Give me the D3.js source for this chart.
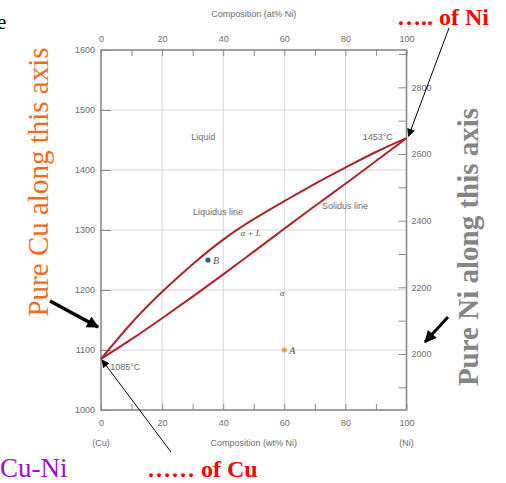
<!DOCTYPE html>
<html>
<head>
<meta charset="utf-8">
<script src="https://cdn.jsdelivr.net/npm/d3@7"></script>
<style>
  html, body { margin: 0; padding: 0; background: #fff; }
  svg { display: block; }
</style>
</head>
<body>
<div id="chart"></div>
<script>
// Cu-Ni phase diagram

const width = 506;
const height = 483;

// data
const wtPct = [0, 10, 20, 30, 40, 50, 60, 70, 80, 90, 100];
const liquidus = [1085, 1145, 1197, 1243, 1284, 1318, 1348, 1377, 1404, 1430, 1453];
const solidus = [1085, 1118, 1153, 1189, 1226, 1264, 1302, 1340, 1377, 1415, 1453];

const wtTicks = [0, 20, 40, 60, 80, 100];
const atTicks = [0, 20, 40, 60, 80, 100];
const tempTicksC = [1000, 1100, 1200, 1300, 1400, 1500, 1600];
const tempTicksF = [2000, 2200, 2400, 2600, 2800];
const minorTicksF = [1900, 2000, 2100, 2200, 2300, 2400, 2500, 2600, 2700, 2800, 2900];

const pointNames = ["A", "B"];
const pointWt = [60, 35];
const pointT = [1100, 1250];
const pointColors = ["#f0a042", "#1d5e9e"];

const meltCu = 1085;
const meltNi = 1453;

const gray = "#6a6a6a";
const curveColor = "#a8262e";

const svg = d3.select("#chart").append("svg")
  .attr("width", width)
  .attr("height", height)
  .attr("viewBox", [0, 0, width, height]);

const x = d3.scaleLinear().domain([0, 100]).range([101, 406.5]);
const y = d3.scaleLinear().domain([1000, 1600]).range([410, 50]);
const yF = d3.scaleLinear().domain([1000 * 9 / 5 + 32, 1600 * 9 / 5 + 32]).range([410, 50]);

const defs = svg.append("defs");
function marker(id, w, h) {
  defs.append("marker")
    .attr("id", id)
    .attr("viewBox", "0 0 10 10")
    .attr("refX", 9).attr("refY", 5)
    .attr("markerWidth", w).attr("markerHeight", h)
    .attr("markerUnits", "userSpaceOnUse")
    .attr("orient", "auto")
    .append("path").attr("d", "M0,0 L10,5 L0,10 z").attr("fill", "#000");
}
marker("head-thin", 9, 8);
marker("head-thick", 13, 12);

// gridlines
const grid = svg.append("g").attr("stroke", "#d4d4d4").attr("stroke-width", 1);
grid.selectAll("line.v").data(wtTicks.slice(1, -1)).join("line")
  .attr("x1", d => x(d)).attr("x2", d => x(d))
  .attr("y1", y(1600)).attr("y2", y(1000));
grid.selectAll("line.h").data(tempTicksC.slice(1, -1)).join("line")
  .attr("x1", x(0)).attr("x2", x(100))
  .attr("y1", d => y(d)).attr("y2", d => y(d));

// axes drawn with d3 axis generators, ticks pointing inward
const small = "9px 'Liberation Sans', Arial, sans-serif";
function styleAxis(g) {
  g.select(".domain").remove();
  g.selectAll(".tick line").attr("stroke", "#8a8a8a").attr("stroke-width", 1);
  g.selectAll(".tick text").attr("fill", gray).style("font", small);
}

svg.append("g")
  .attr("transform", `translate(${x(0)},0)`)
  .call(d3.axisLeft(y).tickValues(tempTicksC).tickSizeInner(-10).tickSizeOuter(0).tickFormat(d3.format("d")))
  .call(styleAxis)
  .call(g => g.selectAll(".tick text").attr("x", -6));

svg.append("g")
  .attr("transform", `translate(0,${y(1000)})`)
  .call(d3.axisBottom(x).ticks(10).tickSizeInner(-6).tickSizeOuter(0).tickFormat(""))
  .call(styleAxis);
svg.append("g")
  .attr("transform", `translate(0,${y(1000)})`)
  .call(d3.axisBottom(x).tickValues(wtTicks).tickSize(0).tickPadding(10))
  .call(styleAxis);

svg.append("g")
  .attr("transform", `translate(0,${y(1600)})`)
  .call(d3.axisTop(x).ticks(10).tickSizeInner(-6).tickSizeOuter(0).tickFormat(""))
  .call(styleAxis);
svg.append("g")
  .attr("transform", `translate(0,${y(1600)})`)
  .call(d3.axisTop(x).tickValues(atTicks).tickSize(0).tickPadding(8))
  .call(styleAxis);

svg.append("g")
  .attr("transform", `translate(${x(100)},0)`)
  .call(d3.axisRight(yF).tickValues(minorTicksF).tickSizeInner(-8).tickSizeOuter(0).tickFormat(""))
  .call(styleAxis);
svg.append("g")
  .attr("transform", `translate(${x(100)},0)`)
  .call(d3.axisRight(yF).tickValues(tempTicksF).tickSize(0).tickPadding(5).tickFormat(d3.format("d")))
  .call(styleAxis);

// frame
svg.append("rect")
  .attr("x", x(0)).attr("y", y(1600))
  .attr("width", x(100) - x(0)).attr("height", y(1000) - y(1600))
  .attr("fill", "none").attr("stroke", "#8a8a8a").attr("stroke-width", 1.6);

// axis titles
svg.append("text").attr("x", (x(0) + x(100)) / 2).attr("y", 17).attr("text-anchor", "middle")
  .attr("fill", gray).style("font", small).text("Composition (at% Ni)");
svg.append("text").attr("x", (x(0) + x(100)) / 2).attr("y", 446).attr("text-anchor", "middle")
  .attr("fill", gray).style("font", small).text("Composition (wt% Ni)");
svg.append("text").attr("x", x(0)).attr("y", 446).attr("text-anchor", "middle")
  .attr("fill", gray).style("font", small).text("(Cu)");
svg.append("text").attr("x", x(100)).attr("y", 446).attr("text-anchor", "middle")
  .attr("fill", gray).style("font", small).text("(Ni)");

// liquidus and solidus
const line = d3.line()
  .x(d => x(d[0]))
  .y(d => y(d[1]))
  .curve(d3.curveNatural);

svg.append("path")
  .attr("d", line(d3.zip(wtPct, liquidus)))
  .attr("fill", "none").attr("stroke", curveColor).attr("stroke-width", 2);
svg.append("path")
  .attr("d", line(d3.zip(wtPct, solidus)))
  .attr("fill", "none").attr("stroke", curveColor).attr("stroke-width", 2);

// region / line labels
const labelFont = "9px 'Liberation Sans', Arial, sans-serif";
svg.append("text").attr("x", x(33.5)).attr("y", y(1450)).attr("text-anchor", "middle")
  .attr("fill", gray).style("font", labelFont).text("Liquid");
svg.append("text").attr("x", x(95.5)).attr("y", y(1450)).attr("text-anchor", "end")
  .attr("fill", gray).style("font", labelFont).text(meltNi + "°C");
svg.append("text").attr("x", x(38.3)).attr("y", y(1325)).attr("text-anchor", "middle")
  .attr("fill", gray).style("font", labelFont).text("Liquidus line");
svg.append("text").attr("x", x(72.3)).attr("y", y(1335)).attr("text-anchor", "start")
  .attr("fill", gray).style("font", labelFont).text("Solidus line");
svg.append("text").attr("x", x(3)).attr("y", y(1067)).attr("text-anchor", "start")
  .attr("fill", gray).style("font", labelFont).text(meltCu + "°C");

const italic = "italic 9px 'Liberation Serif', 'Times New Roman', serif";
svg.append("text").attr("x", x(49)).attr("y", y(1290)).attr("text-anchor", "middle")
  .attr("fill", "#555").style("font", italic).text("α + L");
svg.append("text").attr("x", x(59.3)).attr("y", y(1190)).attr("text-anchor", "middle")
  .attr("fill", "#555").style("font", italic).text("α");

// points A and B
const points = pointNames.map((n, i) => ({ name: n, wt: pointWt[i], t: pointT[i], color: pointColors[i] }));
svg.selectAll("circle.pt").data(points).join("circle")
  .attr("class", "pt")
  .attr("cx", d => x(d.wt)).attr("cy", d => y(d.t))
  .attr("r", 2.6).attr("fill", d => d.color);
svg.selectAll("text.pt").data(points).join("text")
  .attr("class", "pt")
  .attr("x", d => x(d.wt) + 5).attr("y", d => y(d.t) + 4)
  .attr("fill", "#555").style("font", "italic 10px 'Liberation Serif', serif")
  .text(d => d.name);

// annotations
const serif = "'Liberation Serif', 'Times New Roman', serif";

svg.append("text").attr("x", -3).attr("y", 29)
  .style("font", `21px ${serif}`).attr("fill", "#000").text("e");

svg.append("text")
  .attr("transform", `translate(48,${182}) rotate(-90)`)
  .attr("text-anchor", "middle")
  .attr("fill", "#f26a1c")
  .style("font", `29px ${serif}`)
  .text("Pure Cu along this axis");

svg.append("text")
  .attr("transform", `translate(478,${247}) rotate(-90)`)
  .attr("text-anchor", "middle")
  .attr("fill", "#858585")
  .style("font", `bold 29px ${serif}`)
  .text("Pure Ni along this axis");

svg.append("text").attr("x", 0).attr("y", 477)
  .attr("fill", "#9b10c8").style("font", `27px ${serif}`).text("Cu-Ni");
svg.append("text").attr("x", 147).attr("y", 477)
  .attr("fill", "#f00").style("font", `bold 24px ${serif}`).text("…… of Cu");
svg.append("text").attr("x", 397).attr("y", 25)
  .attr("fill", "#f00").style("font", `bold 24px ${serif}`).text("….. of Ni");

// thin arrows to the melting points
svg.append("line")
  .attr("x1", 171).attr("y1", 452)
  .attr("x2", x(0) + 1).attr("y2", y(meltCu) + 1)
  .attr("stroke", "#000").attr("stroke-width", 1)
  .attr("marker-end", "url(#head-thin)");
svg.append("line")
  .attr("x1", 449).attr("y1", 28)
  .attr("x2", x(100) + 2).attr("y2", y(meltNi) - 2)
  .attr("stroke", "#000").attr("stroke-width", 1)
  .attr("marker-end", "url(#head-thin)");

// thick arrows toward the axes
svg.append("line")
  .attr("x1", 50).attr("y1", 301)
  .attr("x2", x(0) - 3).attr("y2", 327)
  .attr("stroke", "#000").attr("stroke-width", 3.5)
  .attr("marker-end", "url(#head-thick)");
svg.append("line")
  .attr("x1", 448).attr("y1", 317)
  .attr("x2", 425).attr("y2", 342)
  .attr("stroke", "#000").attr("stroke-width", 3)
  .attr("marker-end", "url(#head-thick)");
</script>
</body>
</html>
